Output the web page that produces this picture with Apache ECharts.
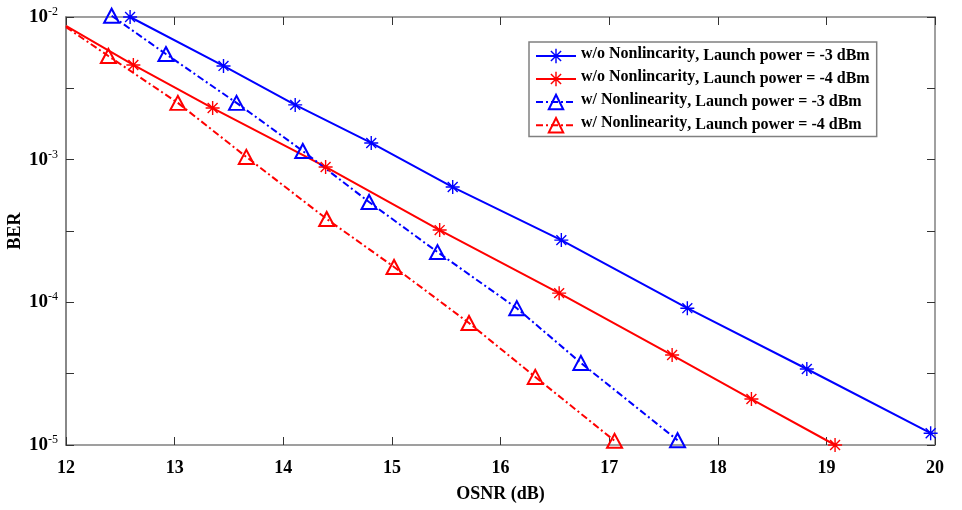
<!DOCTYPE html>
<html>
<head>
<meta charset="utf-8">
<script src="https://cdn.jsdelivr.net/npm/echarts@6/dist/echarts.min.js"></script>
<style>
  html, body { margin: 0; padding: 0; background: #fff; }
  #chart { width: 962px; height: 510px; }
</style>
</head>
<body>
<div id="chart"></div>
<script>
// values (OSNR in dB, BER)
const osnrNoNl3 = [12.59, 13.45, 14.11, 14.81, 15.56, 16.56, 17.72, 18.82, 19.96]
const berNoNl3 = [1.0e-2, 4.54e-3, 2.42e-3, 1.31e-3, 6.43e-4, 2.73e-4, 9.1e-5, 3.41e-5, 1.21e-5]

const osnrNoNl4 = [12.0, 12.62, 13.35, 14.39, 15.44, 16.54, 17.58, 18.31, 19.08]
const berNoNl4 = [8.65e-3, 4.61e-3, 2.30e-3, 8.89e-4, 3.21e-4, 1.16e-4, 4.27e-5, 2.10e-5, 1.0e-5]

const osnrNl3 = [12.42, 12.92, 13.57, 14.18, 14.79, 15.42, 16.15, 16.74, 17.63]
const berNl3 = [1.02e-2, 5.5e-3, 2.5e-3, 1.15e-3, 5.05e-4, 2.25e-4, 9.1e-5, 3.76e-5, 1.08e-5]

const osnrNl4 = [12.0, 12.39, 13.03, 13.66, 14.40, 15.02, 15.71, 16.32, 17.05]
const berNl4 = [8.5e-3, 5.33e-3, 2.5e-3, 1.045e-3, 3.84e-4, 1.77e-4, 7.16e-5, 3.0e-5, 1.07e-5]

const seriesNames = [
  'w/o Nonlincarity, Launch power = -3 dBm',
  'w/o Nonlincarity, Launch power = -4 dBm',
  'w/ Nonlinearity, Launch power = -3 dBm',
  'w/ Nonlinearity, Launch power = -4 dBm'
]

const BLUE = '#0000ff'
const RED = '#ff0000'
const AXIS = '#808080'
const FONT = 'Liberation Serif'

// matlab style asterisk marker (4 thin bars)
const asterisk = 'path://M9 0L11 0L11 20L9 20Z M0 9L20 9L20 11L0 11Z' +
  ' M3.64 2.22L17.78 16.36L16.36 17.78L2.22 3.64Z M16.36 2.22L17.78 3.64L3.64 17.78L2.22 16.36Z'

const dashDot = [7, 3, 2, 3]

function pairs (xs, ys, skipFirstMarker) {
  return xs.map((x, i) => {
    if (skipFirstMarker && i === 0) return { value: [x, ys[i]], symbol: 'none' }
    return [x, ys[i]]
  })
}

function makeSeries (name, xs, ys, color, marker, dashed, skipFirst) {
  return {
    name: name,
    type: 'line',
    clip: false,
    yAxisIndex: 0,
    data: pairs(xs, ys, skipFirst),
    symbol: marker === 'star' ? asterisk : 'triangle',
    symbolSize: marker === 'star' ? 14 : [15, 14],
    lineStyle: { color: color, width: 2, type: dashed ? dashDot : 'solid' },
    itemStyle: marker === 'star'
      ? { color: color, borderWidth: 0 }
      : { color: 'rgba(255,255,255,0)', borderColor: color, borderWidth: 2 },
    emphasis: { disabled: true },
    animation: false
  }
}

const tickStyle = { color: '#333', width: 1 }
const axisLineStyle = { color: AXIS, width: 1.5 }

const baseX = {
  type: 'value',
  min: 12,
  max: 20,
  interval: 1,
  axisLine: { show: true, onZero: false, lineStyle: axisLineStyle },
  axisTick: { show: true, inside: true, length: 8, lineStyle: tickStyle },
  splitLine: { show: false }
}

// tick-only axes in log10 units, ticks every half decade like the figure
const tickY = {
  type: 'value',
  min: -5,
  max: -2,
  interval: 0.5,
  axisLine: { show: true, onZero: false, lineStyle: axisLineStyle },
  axisTick: { show: true, inside: true, length: 8, lineStyle: tickStyle },
  axisLabel: { show: false },
  splitLine: { show: false }
}

const chart = echarts.init(document.getElementById('chart'))
chart.setOption({
  backgroundColor: '#fff',
  animation: false,
  grid: { left: 66, right: 27, top: 17, bottom: 65, containLabel: false, outerBoundsMode: 'none' },
  legend: {
    orient: 'vertical',
    left: 529,
    top: 42,
    padding: [4, 7, 3, 6],
    itemGap: 5,
    itemWidth: 40,
    itemHeight: 18,
    backgroundColor: '#fff',
    borderColor: AXIS,
    borderWidth: 1.5,
    borderRadius: 0,
    formatter: name => {
      const cut = name.indexOf(',')
      return '{a|' + name.slice(0, cut) + '}{b|' + name.slice(cut) + '}'
    },
    textStyle: {
      fontFamily: FONT,
      fontWeight: 'bold',
      fontSize: 16,
      color: '#000',
      rich: {
        a: { fontFamily: FONT, fontWeight: 'bold', fontSize: 16, color: '#000', padding: [0, 0, 4, 0] },
        b: { fontFamily: FONT, fontWeight: 'bold', fontSize: 16, color: '#000' }
      }
    },
    data: seriesNames
  },
  xAxis: [
    Object.assign({}, baseX, {
      position: 'bottom',
      axisLabel: { margin: 14, fontFamily: FONT, fontWeight: 'bold', fontSize: 18, color: '#000' },
      name: 'OSNR (dB)',
      nameLocation: 'middle',
      nameGap: 40,
      nameMoveOverlap: false,
      nameTextStyle: { fontFamily: FONT, fontWeight: 'bold', fontSize: 18, color: '#000' }
    }),
    Object.assign({}, baseX, { position: 'top', axisLabel: { show: false } })
  ],
  yAxis: [
    {
      type: 'log',
      logBase: 10,
      min: 1e-5,
      max: 1e-2,
      position: 'left',
      axisLine: { show: true, onZero: false, lineStyle: axisLineStyle },
      axisTick: { show: false },
      splitLine: { show: false },
      axisLabel: {
        margin: 8,
        formatter: v => '{b|10}{s|' + Math.round(Math.log10(v)) + '}',
        rich: {
          b: { fontFamily: FONT, fontWeight: 'bold', fontSize: 19, color: '#000' },
          s: { fontFamily: FONT, fontSize: 12, color: '#000', padding: [0, 0, 10, 0] }
        }
      },
      name: 'BER',
      nameLocation: 'middle',
      nameGap: 42,
      nameRotate: 90,
      nameMoveOverlap: false,
      nameTextStyle: { fontFamily: FONT, fontWeight: 'bold', fontSize: 18, color: '#000' }
    },
    Object.assign({}, tickY, { position: 'left' }),
    Object.assign({}, tickY, { position: 'right' })
  ],
  series: [
    makeSeries(seriesNames[0], osnrNoNl3, berNoNl3, BLUE, 'star', false, false),
    makeSeries(seriesNames[1], osnrNoNl4, berNoNl4, RED, 'star', false, true),
    makeSeries(seriesNames[2], osnrNl3, berNl3, BLUE, 'tri', true, false),
    makeSeries(seriesNames[3], osnrNl4, berNl4, RED, 'tri', true, true)
  ]
})
</script>
</body>
</html>
